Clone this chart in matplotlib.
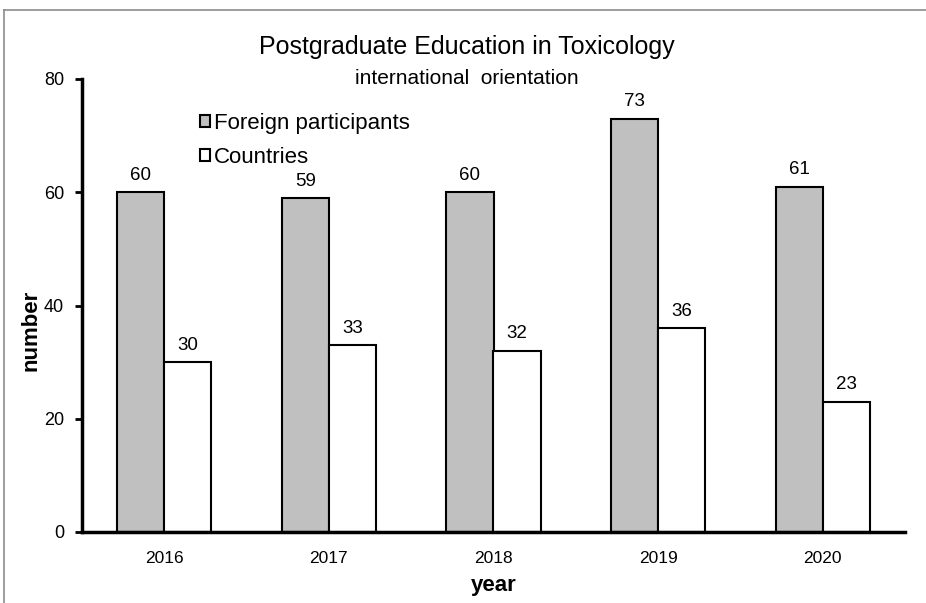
import matplotlib
matplotlib.use("Agg")
import matplotlib.pyplot as plt
import numpy as np
from matplotlib.lines import Line2D
from matplotlib.patches import Patch

years = ["2016", "2017", "2018", "2019", "2020"]
foreign = [60, 59, 60, 73, 61]
countries = [30, 33, 32, 36, 23]
series_names = ["Foreign participants", "Countries"]

plt.rcParams['font.family'] = ['Liberation Sans', 'DejaVu Sans']

fig = plt.figure(figsize=(9.26, 6.03), dpi=100)
ax = fig.add_axes([82/926, 1-532/603, (905-82)/926, (532-79)/603])

# border
fig.add_artist(Line2D([4/926, 4/926], [0, 1-10/603], transform=fig.transFigure, color='#8c8c8c', lw=1.2))
fig.add_artist(Line2D([4/926, 1], [1-10/603, 1-10/603], transform=fig.transFigure, color='#8c8c8c', lw=1.2))

x = np.arange(len(years))
w = 0.286
b1 = ax.bar(x - w/2, foreign, w, color='#c0c0c0', edgecolor='black', linewidth=1.5, zorder=2)
b2 = ax.bar(x + w/2, countries, w, color='white', edgecolor='black', linewidth=1.5, zorder=2)
for bars, vals in ((b1, foreign), (b2, countries)):
    for r, v in zip(bars, vals):
        ax.annotate(str(v), (r.get_x() + r.get_width()/2, v), xytext=(0, 6), textcoords='offset points',
                    ha='center', va='bottom', fontsize=13.5)

ax.set_xlim(-0.5, 4.5)
ax.set_ylim(0, 80)
ax.set_yticks([0, 20, 40, 60, 80])
ax.set_xticks(x)
ax.set_xticklabels(years)
ax.tick_params(axis='y', direction='out', length=5, width=2, labelsize=13, pad=8)
ax.tick_params(axis='x', length=0, labelsize=12.5, pad=14)
for s in ('top', 'right'):
    ax.spines[s].set_visible(False)
for s in ('left', 'bottom'):
    ax.spines[s].set_linewidth(2.5)
ax.spines['bottom'].set_zorder(3)

ax.set_xlabel("year", fontsize=16, fontweight='bold', labelpad=6)
ax.set_ylabel("number", fontsize=16, fontweight='bold')
ax.yaxis.set_label_coords((41-82)/823, (532-330)/453)

fig.text(467/926, 1-47/603, "Postgraduate Education in Toxicology", ha='center', va='center', fontsize=18)
fig.text(467/926, 1-78/603, "international  orientation", ha='center', va='center', fontsize=15)

handles = [Patch(facecolor='#c0c0c0', edgecolor='black', linewidth=1.5),
           Patch(facecolor='white', edgecolor='black', linewidth=1.5)]
leg = ax.legend(handles, series_names, loc='upper left', bbox_to_anchor=((191-82)/823, (532-104)/453),
                frameon=False, fontsize=16, handlelength=0.45, handleheight=0.45, handletextpad=0.2,
                labelspacing=0.6, borderaxespad=0)

fig.savefig("out.png", dpi=100)
